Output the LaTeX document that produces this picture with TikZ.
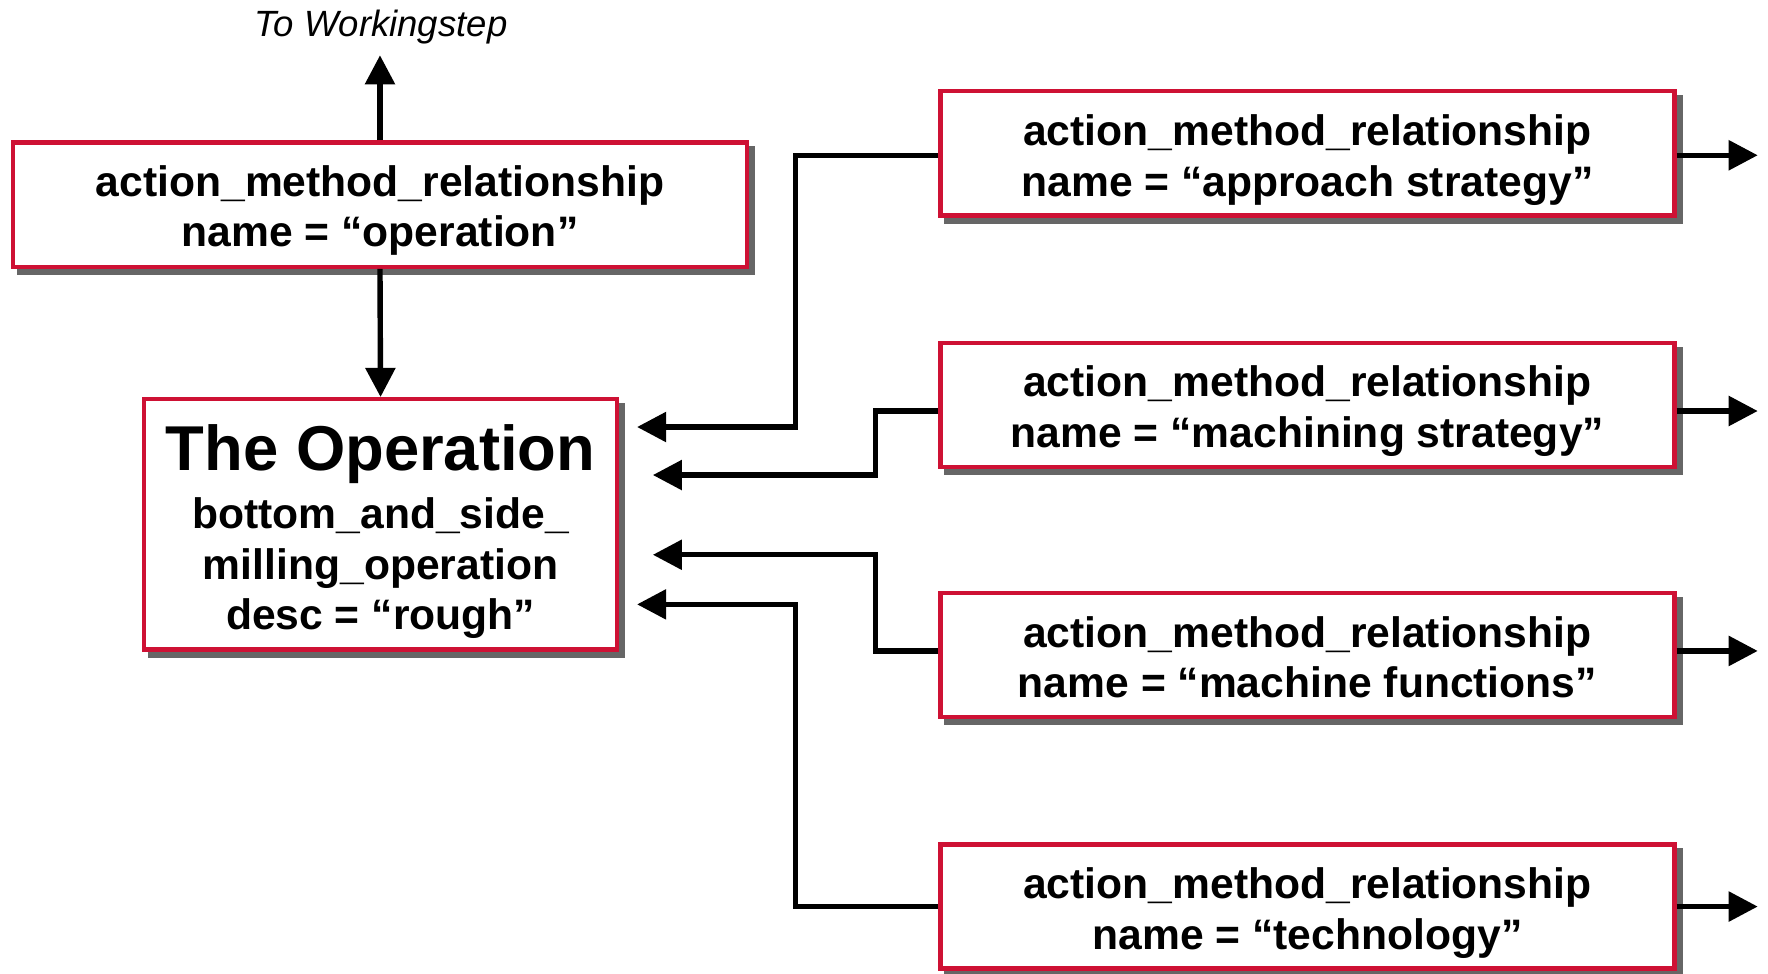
\documentclass[tikz,border=0pt]{standalone}
\usepackage{fontspec}
\setmainfont{Liberation Sans}
\usetikzlibrary{arrows.meta}
\definecolor{boxred}{RGB}{206,17,52}
\definecolor{shadowgray}{RGB}{102,102,102}
% invisible strut that adds head room above the first line of a box
\newcommand{\headroom}[1]{\rule{0pt}{#1}}
\begin{document}
\begin{tikzpicture}[x=0.5pt,y=-0.5pt,
  link/.style={line width=2.4pt},
  conn/.style={line width=2.4pt,-{Triangle[length=12.9pt,width=12.9pt]}},
  shadowed/.style={preaction={draw=shadowgray,fill=shadowgray,
      transform canvas={shift={(2.66pt,-2.66pt)}}}},
  amrbox/.style={shadowed,draw=boxred,line width=1.9pt,fill=white,
    minimum width=325.5pt,minimum height=55pt,inner sep=0pt,align=center,
    font=\bfseries\fontsize{18.9pt}{22.5pt}\selectfont},
  opbox/.style={amrbox,minimum width=209.6pt,minimum height=111pt}
]
\useasboundingbox (0,0) rectangle (1568,863);

% label above the operation relationship
\node[anchor=base,font=\itshape\fontsize{16.2pt}{18pt}\selectfont] (wslabel) at (338,32) {To Workingstep};
\coordinate (ws) at (337,49);

% relationship boxes
\node[amrbox] (amrop) at (337,181.5) {\headroom{18.8pt}action\_method\_relationship\\name = “operation”};
\node[opbox] (op) at (337.5,465) {{\fontsize{28.1pt}{30pt}\selectfont\headroom{27.1pt}The Operation}\\[3pt]bottom\_and\_side\_\\milling\_operation\\desc = “rough”};

\node[amrbox] (b1) at (1159.5,136) {\headroom{19.5pt}action\_method\_relationship\\name = “approach strategy”};
\node[amrbox] (b2) at (1159.5,359) {\headroom{19.5pt}action\_method\_relationship\\name = “machining strategy”};
\node[amrbox] (b3) at (1159.5,581) {\headroom{15.5pt}action\_method\_relationship\\name = “machine functions”};
\node[amrbox] (b4) at (1159.5,804) {\headroom{19.5pt}action\_method\_relationship\\name = “technology”};

% vertical links of the operation relationship
\draw[conn] (amrop.north) -- (ws);
\draw[conn] (amrop.south) -- (op.north);

% elbows and arrow ends next to the operation box
\coordinate (jA) at (705.5,378.7);
\coordinate (inA) at (565,378.7);
\coordinate (jB) at (776.4,421.3);
\coordinate (inB) at (579,421.3);
\coordinate (jC) at (776.4,492);
\coordinate (inC) at (579,492);
\coordinate (jD) at (705.5,536);
\coordinate (inD) at (565,536);

\draw[conn] ([yshift=-0.85pt]b1.west) -| (jA) -- (inA);
\draw[conn] ([yshift=-2.75pt]b2.west) -| (jB) -- (inB);
\draw[conn] ([yshift=1.85pt]b3.west) -| (jC) -- (inC);
\draw[conn] (b4.west) -| (jD) -- (inD);

% outgoing arrows on the right
\coordinate (o1) at ([xshift=36pt,yshift=-0.85pt]b1.east);
\coordinate (o2) at ([xshift=36pt,yshift=-2.75pt]b2.east);
\coordinate (o3) at ([xshift=36pt,yshift=1.85pt]b3.east);
\coordinate (o4) at ([xshift=36pt]b4.east);
\draw[conn] ([yshift=-0.85pt]b1.east) -- (o1);
\draw[conn] ([yshift=-2.75pt]b2.east) -- (o2);
\draw[conn] ([yshift=1.85pt]b3.east) -- (o3);
\draw[conn] (b4.east) -- (o4);
\end{tikzpicture}
\end{document}
